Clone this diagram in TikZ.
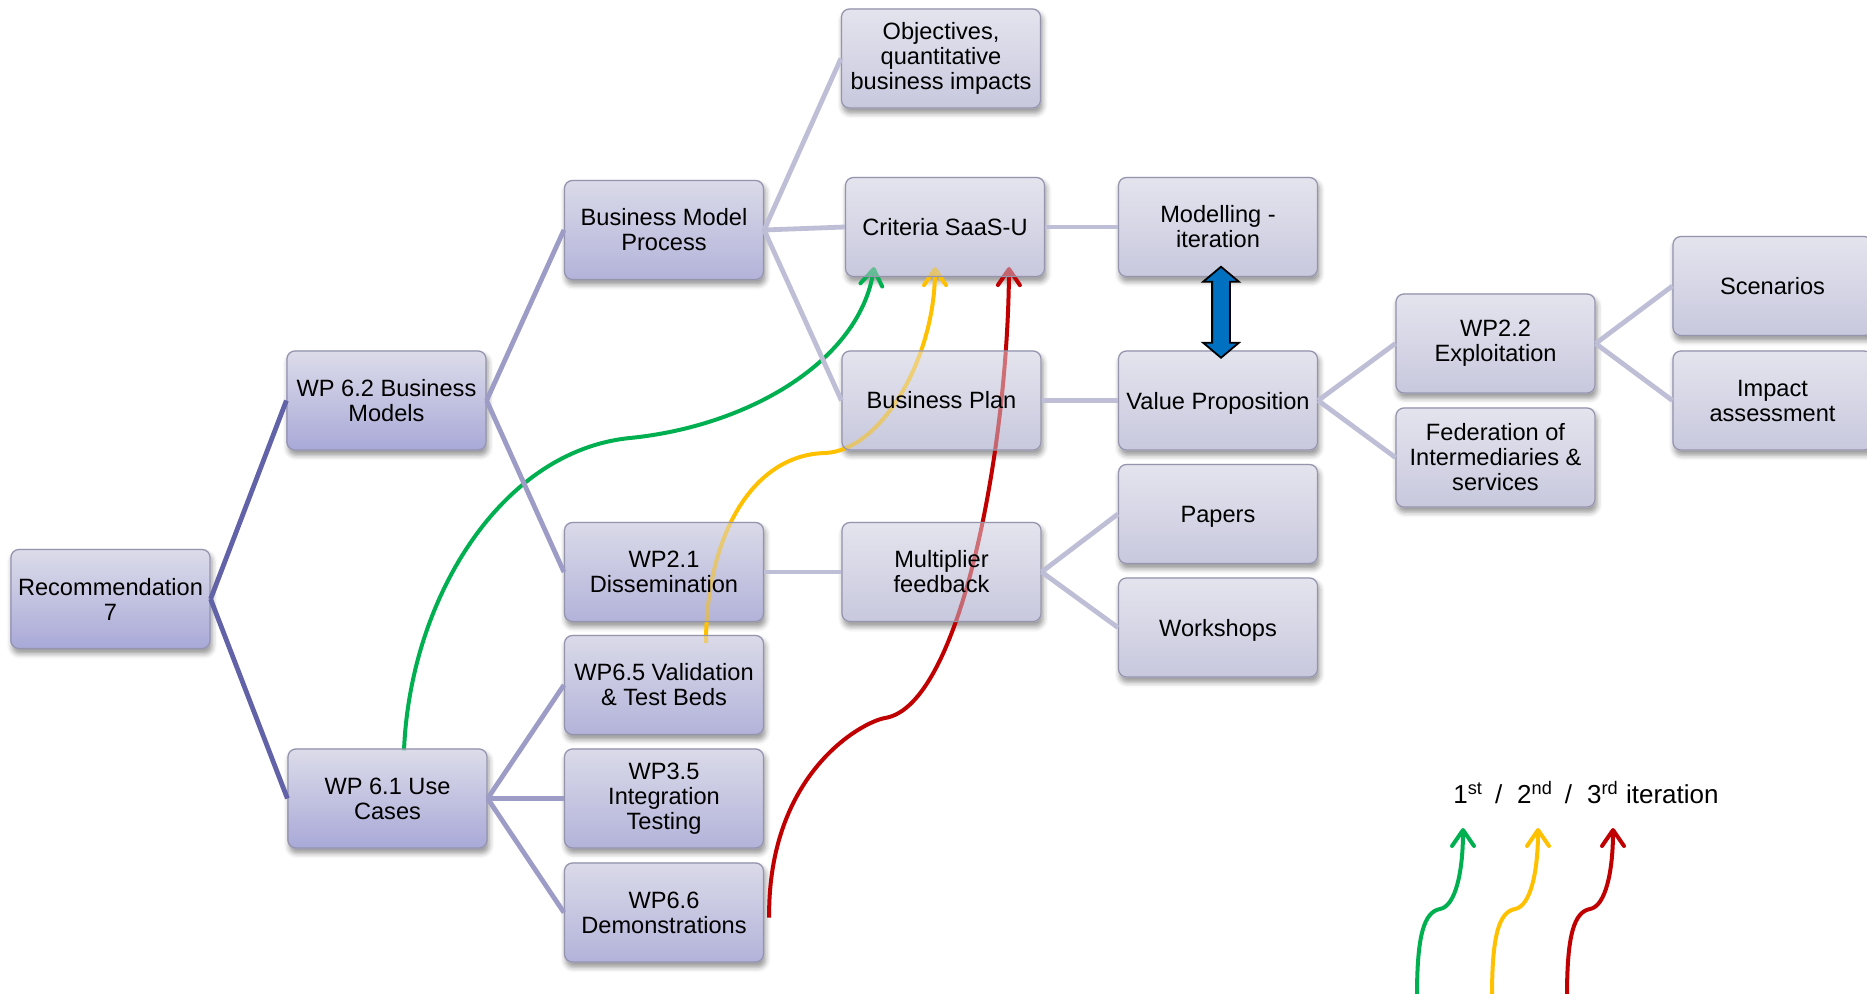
\documentclass[tikz,border=0pt]{standalone}
\usepackage{fontspec}
\setmainfont{Liberation Sans}
\usetikzlibrary{calc,arrows.meta,shapes.arrows,shadows.blur}

\definecolor{topA}{HTML}{DCDCEA}
\definecolor{botA}{HTML}{A9A9D8}
\definecolor{topB}{HTML}{DADAE9}
\definecolor{botB}{HTML}{B3B3DA}
\definecolor{topC}{HTML}{E4E4EE}
\definecolor{botC}{HTML}{C8C8DE}
\definecolor{edgegray}{HTML}{9494AC}
\definecolor{linkdark}{HTML}{6262A8}
\definecolor{linkmid}{HTML}{9C9CC6}
\definecolor{linklight}{HTML}{BEBED6}
\definecolor{itgreen}{HTML}{00B050}
\definecolor{ityellow}{HTML}{FFC000}
\definecolor{itred}{HTML}{C00000}
\definecolor{arrowblue}{HTML}{0070C0}

\pgfdeclarelayer{bg}
\pgfdeclarelayer{curves}
\pgfsetlayers{bg,curves,main}

\newcommand\labelfnt{\fontsize{11.8pt}{12.5pt}\selectfont}

\tikzset{
  box/.style={rectangle, rounded corners=4pt, minimum width=99.5pt,
    minimum height=49.5pt, inner sep=2pt, align=center, draw=edgegray,
    line width=0.6pt, font=\labelfnt, fill opacity=0.5, text opacity=1},
  boxA/.style={box, top color=topA, bottom color=botA},
  boxB/.style={box, top color=topB, bottom color=botB},
  boxC/.style={box, top color=topC, bottom color=botC},
  capcentred/.style={text depth=0pt},
  plate/.style={rounded corners=4pt, blur shadow={shadow xshift=0.8pt,
    shadow yshift=-2.4pt, shadow blur radius=2.5pt, shadow opacity=40}},
  linkA/.style={draw=linkdark, line width=2.4pt},
  linkB/.style={draw=linkmid, line width=2.4pt},
  linkC/.style={draw=linklight, line width=2.4pt},
  iterpath/.style={line width=2pt, -{Straight Barb[length=8pt,width=11pt,round]}},
}

\begin{document}
\begin{tikzpicture}[x=0.5pt,y=-0.5pt]
\useasboundingbox (0,0) rectangle (1867,994);

% ---- boxes ----
\node[boxA] (rec)  at (110.5,599)   {Recommendation\\7};
\node[boxA] (wp62) at (386.5,400.5) {WP 6.2 Business\\Models};
\node[boxA] (wp61) at (387.5,798.5) {WP 6.1 Use\\Cases};

\node[boxB] (bmp)  at (664,230)   {Business Model\\Process};
\node[boxB] (wp21) at (664,572)   {WP2.1\\Dissemination};
\node[boxB] (wp65) at (664,685)   {WP6.5 Validation\\\& Test Beds};
\node[boxB] (wp35) at (664,798.5) {WP3.5\\Integration\\Testing};
\node[boxB] (wp66) at (664,912.5) {WP6.6\\Demonstrations};

\node[boxC] (obj)    at (941,58.5)    {Objectives,\\quantitative\\business impacts};
\node[boxC] (crit)   at (945,227)     {Criteria SaaS-U};
\node[boxC] (bp)     at (941.5,400.5) {Business Plan};
\node[boxC] (mult)   at (941.5,572)   {Multiplier\\feedback};
\node[boxC] (model)  at (1218,227)    {Modelling -\\iteration};
\node[boxC, capcentred] (vp)     at (1218,400.5)  {Value Proposition};
\node[boxC, capcentred] (papers) at (1218,514)    {Papers};
\node[boxC, capcentred] (works)  at (1218,627.5)  {Workshops};
\node[boxC] (wp22)   at (1495.5,343.5) {WP2.2\\Exploitation};
\node[boxC] (fed)    at (1495.5,457.5) {Federation of\\Intermediaries \&\\services};
\node[boxC] (scen)   at (1772.5,286)  {Scenarios};
\node[boxC] (imp)    at (1772.5,400.5) {Impact\\assessment};

% ---- opaque plates with soft shadows under the boxes ----
\begin{pgfonlayer}{bg}
  \foreach \n in {rec,wp62,wp61}
    \path[plate, top color=topA, bottom color=botA] (\n.south west) rectangle (\n.north east);
  \foreach \n in {bmp,wp21,wp65,wp35,wp66}
    \path[plate, top color=topB, bottom color=botB] (\n.south west) rectangle (\n.north east);
  \foreach \n in {obj,crit,bp,mult,model,vp,papers,works,wp22,fed,scen,imp}
    \path[plate, top color=topC, bottom color=botC] (\n.south west) rectangle (\n.north east);
\end{pgfonlayer}

% ---- tree connectors ----
\draw[linkA] (rec.east) -- (wp62.west);
\draw[linkA] (rec.east) -- (wp61.west);
\draw[linkB] (wp62.east) -- (bmp.west);
\draw[linkB] (wp62.east) -- (wp21.west);
\draw[linkB] (wp61.east) -- (wp65.west);
\draw[linkB] (wp61.east) -- (wp35.west);
\draw[linkB] (wp61.east) -- (wp66.west);
\draw[linkC] (bmp.east) -- (obj.west);
\draw[linkC] (bmp.east) -- (crit.west);
\draw[linkC] (bmp.east) -- (bp.west);
\draw[linkC] (crit.east) -- (model.west);
\draw[linkC] (bp.east) -- (vp.west);
\draw[linkC] (vp.east) -- (wp22.west);
\draw[linkC] (vp.east) -- (fed.west);
\draw[linkC] (wp22.east) -- (scen.west);
\draw[linkC] (wp22.east) -- (imp.west);
\draw[linkC] (wp21.east) -- (mult.west);
\draw[linkC] (mult.east) -- (papers.west);
\draw[linkC] (mult.east) -- (works.west);

% ---- modelling / value proposition exchange ----
\node[double arrow, draw=black, fill=arrowblue, line width=0.9pt, rotate=90,
      minimum height=45.5pt, inner sep=4pt, double arrow head extend=4.5pt,
      double arrow tip angle=100]
  (exch) at ($(model.south)!0.5!(vp.north)+(3,-1.5)$) {};

% ---- iteration curves ----
\begin{pgfonlayer}{curves}
  \draw[iterpath, itgreen] ($(wp61.north)+(16.5,2)$)
    .. controls (410,600) and (500,451) .. (630,438)
    .. controls (750,426) and (860,360) .. ($(crit.south)+(-71,-10)$);
  \draw[iterpath, ityellow] ($(wp65.north)+(42,8)$)
    .. controls (706,540) and (750,455) .. (825,453)
    .. controls (880,451) and (935,360) .. ($(crit.south)+(-10,-10)$);
  \draw[iterpath, itred] ($(wp66.east)+(5,5)$)
    .. controls (768,773) and (862,722) .. (885,718)
    .. controls (960,706) and (1008,450) .. ($(crit.south)+(64,-10)$);
\end{pgfonlayer}

% ---- legend ----
\node[anchor=base west, inner sep=0pt, font=\fontsize{13pt}{15pt}\selectfont]
  (legend) at (1453,803)
  {1\textsuperscript{st}\hspace{6pt}/\hspace{7.5pt}2\textsuperscript{nd}\hspace{6pt}/\hspace{7.5pt}3\textsuperscript{rd} iteration};

\foreach \col/\dx [count=\k] in {itgreen/0, ityellow/75, itred/150} {
  \coordinate (leg-from-\k) at ({1417+\dx},996);
  \coordinate (leg-to-\k) at ({1463+\dx},828);
  \draw[iterpath, \col] (leg-from-\k)
    .. controls ({1417+\dx},935) and ({1424+\dx},912) .. ({1440+\dx},909)
    .. controls ({1456+\dx},906) and ({1463+\dx},870) .. (leg-to-\k);
}
\end{tikzpicture}
\end{document}
